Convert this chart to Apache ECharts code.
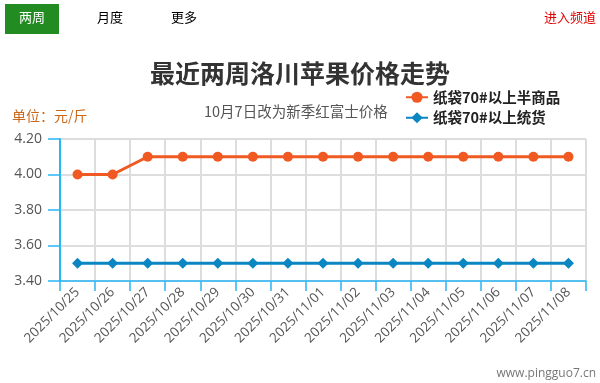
<!DOCTYPE html>
<html><head><meta charset="utf-8">
<script src="https://cdn.jsdelivr.net/npm/echarts@6/dist/echarts.min.js"></script>
<style>html,body{margin:0;padding:0;background:#fff}#c{width:600px;height:383px}</style>
</head><body><div id="c"></div>
<script>
var categories = ['2025/10/25','2025/10/26','2025/10/27','2025/10/28','2025/10/29','2025/10/30','2025/10/31','2025/11/01','2025/11/02','2025/11/03','2025/11/04','2025/11/05','2025/11/06','2025/11/07','2025/11/08'];
var seriesNames = ['纸袋70#以上半商品','纸袋70#以上统货'];
var halfGoods = [4.00,4.00,4.10,4.10,4.10,4.10,4.10,4.10,4.10,4.10,4.10,4.10,4.10,4.10,4.10];
var bulkGoods = [3.50,3.50,3.50,3.50,3.50,3.50,3.50,3.50,3.50,3.50,3.50,3.50,3.50,3.50,3.50];
var yTicks = [3.40,3.60,3.80,4.00,4.20];

var font = '"Microsoft YaHei","Noto Sans CJK SC","Noto Sans",sans-serif';
var numFont = '"Open Sans","Noto Sans",sans-serif';
var chart = echarts.init(document.getElementById('c'));
chart.setOption({
  textStyle:{fontFamily:font},
  title:[
    {text:'最近两周洛川苹果价格走势', left:'center', top:56, textStyle:{fontSize:25,fontWeight:'bold',color:'#333',fontFamily:font}},
    {text:'10月7日改为新季红富士价格', left:199, top:99, textStyle:{fontSize:14.5,fontWeight:'normal',color:'#555',fontFamily:font}},
    {text:'单位：元/斤', left:7, top:104, textStyle:{fontSize:14,fontWeight:'normal',color:'#c8681c',fontFamily:font}}
  ],
  graphic:[
    {type:'rect', left:5, top:4, shape:{width:54,height:30}, style:{fill:'#228b22'}},
    {type:'text', left:19, top:11, style:{text:'两周', fill:'#fff', font:'13px '+font}},
    {type:'text', left:97, top:11, style:{text:'月度', fill:'#000', font:'13px '+font}},
    {type:'text', left:171, top:11, style:{text:'更多', fill:'#000', font:'13px '+font}},
    {type:'text', right:4, top:11, style:{text:'进入频道', fill:'#e00000', font:'13px '+font}},
    {type:'text', right:4, top:368, style:{text:'www.pingguo7.cn', fill:'#777', font:'12px '+numFont}}
  ],
  legend:{
    orient:'vertical', left:400, top:85, itemGap:6, itemWidth:22, itemHeight:14,
    data:[seriesNames[0],seriesNames[1]],
    textStyle:{fontSize:14.5,fontWeight:'bold',color:'#222',fontFamily:font}
  },
  grid:{left:60,right:14,top:139,bottom:102},
  xAxis:{
    type:'category', data:categories, boundaryGap:true,
    axisLine:{lineStyle:{color:'#29b6f6',width:1.5}},
    axisTick:{show:true,interval:0,length:10,lineStyle:{color:'#29b6f6',width:1.5}},
    axisLabel:{interval:0,rotate:45,fontSize:13.5,color:'#555',margin:9,fontFamily:numFont},
    splitLine:{show:true,interval:0,lineStyle:{color:'#ddd',width:2}}
  },
  yAxis:{
    type:'value', min:yTicks[0], max:yTicks[yTicks.length-1], interval:0.2,
    axisLine:{show:true,lineStyle:{color:'#29b6f6',width:2}},
    axisTick:{show:true,length:12,lineStyle:{color:'#29b6f6',width:1.5}},
    axisLabel:{fontSize:14,color:'#555',margin:18,fontFamily:numFont,formatter:function(v){return v.toFixed(2);}},
    splitLine:{show:true,lineStyle:{color:'#ddd',width:2}}
  },
  series:[
    {name:seriesNames[0], type:'line', data:halfGoods, symbol:'circle', symbolSize:10,
     itemStyle:{color:'#f05a22'}, lineStyle:{width:3,color:'#f05a22'}},
    {name:seriesNames[1], type:'line', data:bulkGoods, symbol:'diamond', symbolSize:11,
     itemStyle:{color:'#0a86c2'}, lineStyle:{width:3,color:'#0a86c2'}}
  ]
});
</script></body></html>
